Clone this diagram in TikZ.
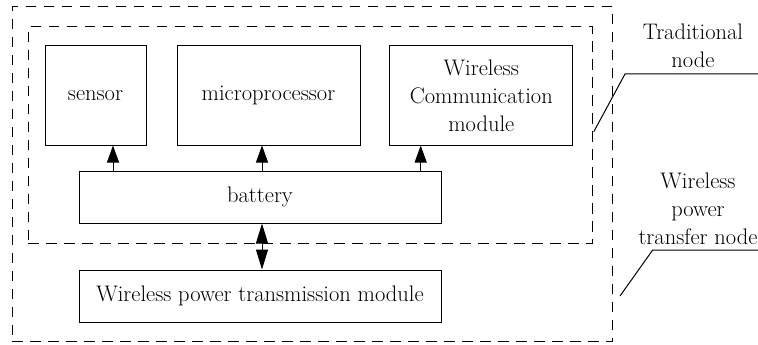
\documentclass[tikz,border=0pt]{standalone}
\usepackage{fontspec}
\usepackage{tikz}
\usetikzlibrary{arrows.meta,positioning,calc}

\begin{document}
\begin{tikzpicture}[
  x=1pt, y=-1pt,
  font=\rmfamily\fontsize{22.5}{28}\selectfont,
  box/.style={rectangle, draw=black, line width=1pt, inner sep=2pt,
              align=center},
  group/.style={rectangle, draw=black, line width=1pt,
                dash pattern=on 10.5pt off 7.5pt},
  arr/.style={-{Triangle[length=17pt,width=12pt]}, line width=1pt},
  biarr/.style={{Triangle[length=20pt,width=12pt]}-{Triangle[length=20pt,width=12pt]},
                line width=1pt},
  lbl/.style={align=center, inner sep=0pt},
  leader/.style={line width=1pt}
]
\useasboundingbox (0,0) rectangle (758,345);

% ---- node groups ----
\node[group, minimum width=600.7pt, minimum height=334.7pt] (outer) at (312.35,174.35) {};
\node[group, minimum width=564.7pt, minimum height=216pt] (inner) at (310.35,135) {};

% ---- modules ----
\node[box, minimum width=101pt, minimum height=99pt] (sensor) at (95.5,95.5) {sensor};
\node[box, minimum width=183pt, minimum height=99pt] (micro) at (268.5,95.5) {microprocessor};
\node[box, minimum width=182.7pt, minimum height=99pt] (wcm) at (481.3,95.5)
  {Wireless\\Communication\\module};
\node[box, minimum width=362pt, minimum height=52pt] (battery) at (260,197) {battery};
\node[box, minimum width=362pt, minimum height=52pt] (wpt) at (260,296)
  {Wireless power transmission module};

% arrows
\draw[arr] ($(sensor.south |- battery.north)+(17.5,0)$) -- ($(sensor.south)+(17.5,0)$);
\draw[arr] ($(micro.south |- battery.north)+(-6.5,0)$) -- ($(micro.south)+(-6.5,0)$);
\draw[arr] ($(wcm.south |- battery.north)+(-60.6,0)$) -- ($(wcm.south)+(-60.6,0)$);
\draw[biarr] ($(battery.south)+(2,0)$) -- ($(wpt.north)+(2,0)$);

% ---- labels ----
\node[lbl] (tradlbl) at (693,46) {Traditional\\node};
\node[lbl] (wptlbl) at (698,209) {Wireless\\power\\transfer node};

\coordinate (tradknee) at (625,74);
\coordinate (wptfoot) at (620,296);
\coordinate (wptknee) at (652.7,250);
\draw[leader] ($(inner.east)+(0.6,-3.3)$) -- (tradknee) -- (tradknee -| 758,0);
\draw[leader] (wptfoot) -- (wptknee) -- (wptknee -| 758,0);
\end{tikzpicture}
\end{document}
